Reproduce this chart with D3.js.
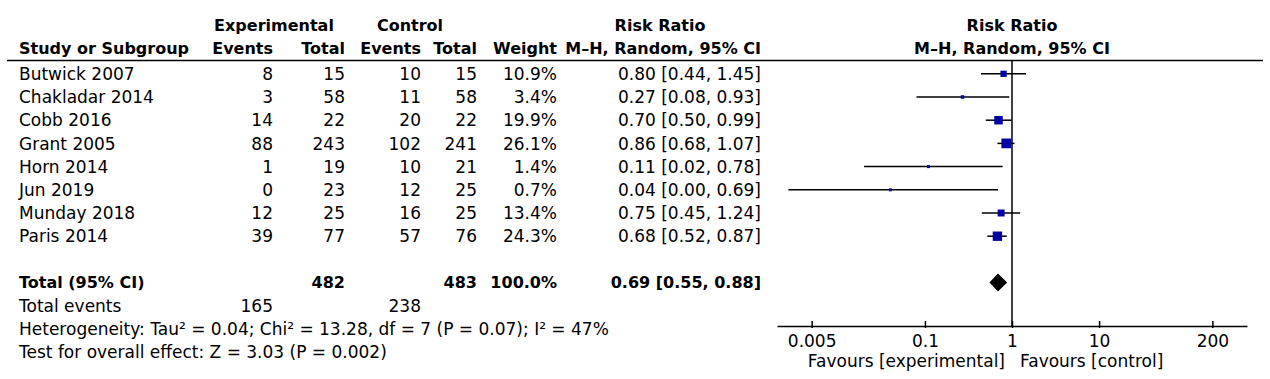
<!DOCTYPE html>
<html>
<head>
<meta charset="utf-8">
<script src="https://cdn.jsdelivr.net/npm/d3@7"></script>
<style>
  html, body { margin: 0; padding: 0; background: #fff; }
  svg { display: block; }
  text { font-family: "DejaVu Sans", Verdana, sans-serif; fill: #000; }
</style>
</head>
<body>
<svg id="chart" width="1270" height="379"></svg>
<script>
// ---------------- data ----------------
const studies   = ["Butwick 2007", "Chakladar 2014", "Cobb 2016", "Grant 2005", "Horn 2014", "Jun 2019", "Munday 2018", "Paris 2014"];
const expEvents = [8, 3, 14, 88, 1, 0, 12, 39];
const expTotal  = [15, 58, 22, 243, 19, 23, 25, 77];
const ctlEvents = [10, 11, 20, 102, 10, 12, 16, 57];
const ctlTotal  = [15, 58, 22, 241, 21, 25, 25, 76];
const weights   = [10.9, 3.4, 19.9, 26.1, 1.4, 0.7, 13.4, 24.3];
const rr        = [0.80, 0.27, 0.70, 0.86, 0.11, 0.04, 0.75, 0.68];
const rrLow     = [0.44, 0.08, 0.50, 0.68, 0.02, 0.0027, 0.45, 0.52];
const rrHigh    = [1.45, 0.93, 0.99, 1.07, 0.78, 0.69, 1.24, 0.87];

const totalLabel = "Total (95% CI)";
const totalExp = 482, totalCtl = 483, totalWeight = 100.0;
const totalRR = 0.69, totalLow = 0.55, totalHigh = 0.88;
const totalEventsExp = 165, totalEventsCtl = 238;
const heterogeneityText = "Heterogeneity: Tau\u00b2 = 0.04; Chi\u00b2 = 13.28, df = 7 (P = 0.07); I\u00b2 = 47%";
const overallText = "Test for overall effect: Z = 3.03 (P = 0.002)";

const axisTicks = [0.005, 0.1, 1, 10, 200];
const axisDomain = [0.002, 500];
const favourLeft = "Favours [experimental]";
const favourRight = "Favours [control]";

// ---------------- layout ----------------
const FS = 17;   // regular text
const FB = 16;   // bold text
const svg = d3.select("#chart");
const f2 = d3.format(".2f");
const f1 = d3.format(".1f");

const rowY = d3.scaleLinear().domain([0, 1]).range([73.8, 97.0]);
const x = d3.scaleLog().domain(axisDomain).range([777, 1247]);

const col = { study: 19, expE: 273, expT: 345, ctlE: 421, ctlT: 477, w: 557, rr: 761 };

function txt(g, xPos, y, s, anchor, bold) {
  return g.append("text")
    .attr("x", xPos).attr("y", y)
    .attr("dy", "0.36em")
    .attr("text-anchor", anchor || "start")
    .attr("font-size", bold ? FB : FS)
    .attr("font-weight", bold ? "bold" : "normal")
    .text(s);
}

// headers
const hdr = svg.append("g");
const h1 = 25, h2 = 48;
txt(hdr, 274, h1, "Experimental", "middle", true);
txt(hdr, 410, h1, "Control", "middle", true);
txt(hdr, 660, h1, "Risk Ratio", "middle", true);
txt(hdr, 1012, h1, "Risk Ratio", "middle", true);
txt(hdr, col.study, h2, "Study or Subgroup", "start", true);
txt(hdr, col.expE, h2, "Events", "end", true);
txt(hdr, col.expT, h2, "Total", "end", true);
txt(hdr, col.ctlE, h2, "Events", "end", true);
txt(hdr, col.ctlT, h2, "Total", "end", true);
txt(hdr, col.w, h2, "Weight", "end", true);
txt(hdr, col.rr, h2, "M\u2013H, Random, 95% CI", "end", true);
txt(hdr, 1012, h2, "M\u2013H, Random, 95% CI", "middle", true);

svg.append("line").attr("x1", 7).attr("x2", 1263).attr("y1", 60.5).attr("y2", 60.5)
  .attr("stroke", "#000").attr("stroke-width", 1.6);

// study rows
const body = svg.append("g");
studies.forEach((s, i) => {
  const y = rowY(i);
  txt(body, col.study, y, s);
  txt(body, col.expE, y, expEvents[i], "end");
  txt(body, col.expT, y, expTotal[i], "end");
  txt(body, col.ctlE, y, ctlEvents[i], "end");
  txt(body, col.ctlT, y, ctlTotal[i], "end");
  txt(body, col.w, y, f1(weights[i]) + "%", "end");
  txt(body, col.rr, y, `${f2(rr[i])} [${f2(rrLow[i])}, ${f2(rrHigh[i])}]`, "end");
});

// total rows
const yT = rowY(9);
txt(body, col.study, yT, totalLabel, "start", true);
txt(body, col.expT, yT, totalExp, "end", true);
txt(body, col.ctlT, yT, totalCtl, "end", true);
txt(body, col.w, yT, f1(totalWeight) + "%", "end", true);
txt(body, col.rr, yT, `${f2(totalRR)} [${f2(totalLow)}, ${f2(totalHigh)}]`, "end", true);

txt(body, col.study, rowY(10), "Total events");
txt(body, col.expE, rowY(10), totalEventsExp, "end");
txt(body, col.ctlE, rowY(10), totalEventsCtl, "end");
txt(body, col.study, rowY(11), heterogeneityText);
txt(body, col.study, rowY(12), overallText);

// ---------------- forest plot ----------------
const axisY = 326;
const plot = svg.append("g");

// line of no effect
plot.append("line")
  .attr("x1", x(1)).attr("x2", x(1))
  .attr("y1", 60.5).attr("y2", axisY)
  .attr("stroke", "#000").attr("stroke-width", 1.5);

// CI lines
plot.selectAll("line.ci").data(studies).join("line")
  .attr("class", "ci")
  .attr("x1", (d, i) => x(rrLow[i]))
  .attr("x2", (d, i) => x(rrHigh[i]))
  .attr("y1", (d, i) => rowY(i)).attr("y2", (d, i) => rowY(i))
  .attr("stroke", "#000").attr("stroke-width", 1.5);

// squares
const side = w => Math.max(3, 1.9 * Math.sqrt(w));
plot.selectAll("rect.pt").data(studies).join("rect")
  .attr("class", "pt")
  .attr("x", (d, i) => x(rr[i]) - side(weights[i]) / 2)
  .attr("y", (d, i) => rowY(i) - side(weights[i]) / 2)
  .attr("width", (d, i) => side(weights[i]))
  .attr("height", (d, i) => side(weights[i]))
  .attr("fill", "#0000a6");

// diamond
const dh = 9;
plot.append("path")
  .attr("d", `M${x(totalLow)},${yT} L${x(totalRR)},${yT - dh} L${x(totalHigh)},${yT} L${x(totalRR)},${yT + dh} Z`)
  .attr("fill", "#000");

// axis
const axis = d3.axisBottom(x)
  .tickValues(axisTicks)
  .tickFormat(d => String(d))
  .tickSizeInner(-5)
  .tickSizeOuter(0)
  .tickPadding(9);
const ag = plot.append("g").attr("transform", `translate(0,${axisY})`).call(axis);
ag.select(".domain").attr("stroke", "#000").attr("stroke-width", 1.5);
ag.selectAll(".tick line").attr("stroke", "#000").attr("stroke-width", 1.5).attr("y2", -5).attr("y1", 2);
ag.selectAll(".tick text").attr("font-size", FS).attr("font-family", "DejaVu Sans, Verdana, sans-serif").attr("fill", "#000");

txt(plot, 1005, 361, favourLeft, "end");
txt(plot, 1020, 361, favourRight, "start");
</script>
</body>
</html>
